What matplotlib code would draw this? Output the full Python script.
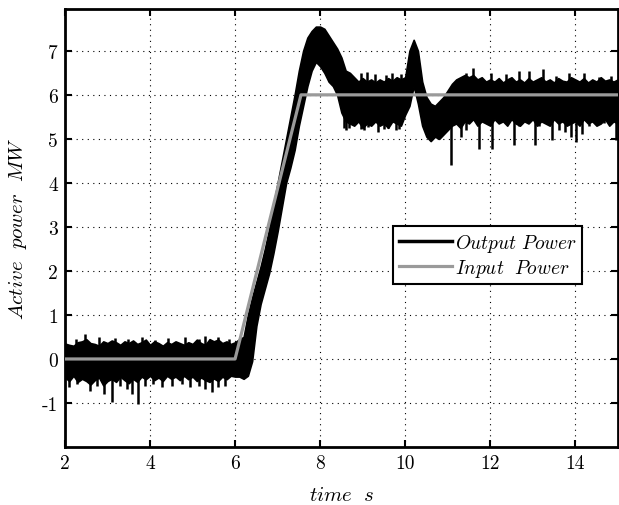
import numpy as np
import matplotlib
matplotlib.use("Agg")
import matplotlib.pyplot as plt

plt.rcParams['mathtext.fontset'] = 'cm'
plt.rcParams['font.family'] = ['cmr10', 'DejaVu Serif']
plt.rcParams['axes.formatter.use_mathtext'] = True

# ---------------- data ----------------
t_start, t_stop, t_step = 2.0, 15.0, 0.1

out_upper = [
    0.35, 0.32, 0.30, 0.38, 0.40, 0.45, 0.36, 0.34, 0.30, 0.40,   # 2.0-2.9
    0.36, 0.42, 0.38, 0.32, 0.40, 0.36, 0.42, 0.34, 0.38, 0.44,   # 3.0-3.9
    0.32, 0.40, 0.36, 0.30, 0.38, 0.34, 0.40, 0.36, 0.32, 0.38,   # 4.0-4.9
    0.34, 0.44, 0.36, 0.32, 0.45, 0.40, 0.44, 0.36, 0.40, 0.34,   # 5.0-5.9
    0.38, 0.45, 0.50, 1.00, 1.40, 1.75, 2.10, 2.50, 2.95, 3.50,   # 6.0-6.9
    4.00, 4.50, 5.00, 5.50, 6.00, 6.55, 7.00, 7.30, 7.45, 7.55,   # 7.0-7.9
    7.55, 7.50, 7.35, 7.20, 7.05, 6.85, 6.55, 6.50, 6.40, 6.30,   # 8.0-8.9
    6.38, 6.30, 6.35, 6.28, 6.35, 6.30, 6.38, 6.32, 6.40, 6.35,   # 9.0-9.9
    6.40, 7.00, 7.25, 7.00, 6.30, 5.95, 5.80, 5.75, 5.85, 5.95,   # 10.0-10.9
    6.10, 6.25, 6.35, 6.40, 6.45, 6.40, 6.45, 6.35, 6.40, 6.30,   # 11.0-11.9
    6.35, 6.30, 6.38, 6.28, 6.35, 6.40, 6.30, 6.35, 6.28, 6.38,   # 12.0-12.9
    6.30, 6.35, 6.40, 6.30, 6.35, 6.28, 6.38, 6.32, 6.30, 6.40,   # 13.0-13.9
    6.35, 6.30, 6.38, 6.28, 6.35, 6.30, 6.40, 6.32, 6.35, 6.30,   # 14.0-14.9
    6.35,                                                         # 15.0
]

out_lower = [
    -0.42, -0.50, -0.38, -0.52, -0.45, -0.50, -0.58, -0.48, -0.42, -0.60,   # 2.0-2.9
    -0.50, -0.45, -0.52, -0.40, -0.48, -0.55, -0.45, -0.52, -0.40, -0.46,   # 3.0-3.9
    -0.38, -0.48, -0.42, -0.50, -0.38, -0.45, -0.40, -0.48, -0.38, -0.46,   # 4.0-4.9
    -0.40, -0.50, -0.42, -0.48, -0.52, -0.44, -0.50, -0.40, -0.46, -0.38,   # 5.0-5.9
    -0.40, -0.40, -0.45, -0.38, -0.05, 0.75, 1.25, 1.60, 1.95, 2.40,        # 6.0-6.9
    2.90, 3.45, 4.00, 4.35, 4.75, 5.30, 5.75, 6.20, 6.55, 6.75,             # 7.0-7.9
    6.65, 6.50, 6.30, 6.20, 6.00, 5.60, 5.40, 5.35, 5.30, 5.40,             # 8.0-8.9
    5.25, 5.35, 5.30, 5.40, 5.30, 5.35, 5.25, 5.40, 5.35, 5.30,             # 9.0-9.9
    5.55, 5.75, 6.20, 5.80, 5.30, 5.05, 4.95, 5.05, 5.00, 5.10,             # 10.0-10.9
    5.20, 5.30, 5.35, 5.25, 5.40, 5.35, 5.45, 5.30, 5.40, 5.35,             # 11.0-11.9
    5.30, 5.45, 5.35, 5.40, 5.30, 5.45, 5.35, 5.30, 5.40, 5.35,             # 12.0-12.9
    5.45, 5.30, 5.40, 5.35, 5.30, 5.45, 5.35, 5.40, 5.30, 5.35,             # 13.0-13.9
    5.40, 5.30, 5.45, 5.35, 5.40, 5.30, 5.35, 5.45, 5.30, 5.40,             # 14.0-14.9
    5.35,                                                                   # 15.0
]

# sharp single-sample spikes of the output power
spike_down_t = [2.09, 2.28, 2.59, 2.75, 2.91, 3.10, 3.30, 3.46, 3.57, 3.71,
                3.89, 4.08, 4.28, 4.51, 4.75, 4.94, 5.14, 5.29, 5.45, 5.61,
                5.76,
                8.55, 8.61, 8.69, 8.96, 9.04, 9.12, 9.35, 9.51, 9.59, 9.79,
                9.86,
                11.08, 11.31, 11.43, 11.74, 12.04, 12.17, 12.55, 12.68, 12.88,
                13.06, 13.15, 13.45, 13.62, 13.77, 13.89, 14.01, 14.17, 14.32,
                14.48, 14.67, 14.95]
spike_down_v = [-0.64, -0.57, -0.72, -0.61, -0.80, -0.98, -0.61, -0.68, -0.80, -1.02,
                -0.61, -0.57, -0.64, -0.61, -0.57, -0.64, -0.61, -0.68, -0.74, -0.64,
                -0.61,
                5.25, 5.20, 5.25, 5.22, 5.20, 5.28, 5.15, 5.22, 5.25, 5.20,
                5.22,
                4.40, 5.05, 5.20, 4.77, 4.77, 5.42, 4.85, 5.30, 5.35,
                4.86, 5.30, 4.98, 5.20, 5.15, 5.05, 4.94, 5.10, 5.30,
                5.40, 5.35, 4.98]
spike_up_t = [2.25, 2.47, 2.79, 3.18, 3.49, 3.80, 4.11, 4.43, 4.82, 5.14,
              5.29, 5.61, 5.85,
              8.95, 9.10, 9.30, 9.55, 9.70, 9.90,
              11.43, 11.60, 12.02, 12.37, 12.68, 12.92, 13.23, 13.55, 13.86,
              14.21, 14.56, 14.83]
spike_up_v = [0.45, 0.57, 0.49, 0.47, 0.45, 0.49, 0.44, 0.47, 0.49, 0.45,
              0.53, 0.49, 0.45,
              6.50, 6.52, 6.47, 6.45, 6.50, 6.48,
              6.50, 6.60, 6.50, 6.47, 6.55, 6.55, 6.58, 6.43, 6.50,
              6.50, 6.40, 6.43]

in_t = [2.0, 6.0, 7.55, 15.0]
in_p = [0.0, 0.0, 6.0, 6.0]

x_ticks = [2, 4, 6, 8, 10, 12, 14]
x_ticklabels = ['2', '4', '6', '8', '10', '12', '14']
y_ticks = [-1, 0, 1, 2, 3, 4, 5, 6, 7]
y_ticklabels = ['-1', '0', '1', '2', '3', '4', '5', '6', '7']

# ---------------- drawing ----------------
t = np.round(np.arange(t_start, t_stop + t_step / 2, t_step), 2)
upper = np.array(out_upper)
lower = np.array(out_lower)

fig = plt.figure(figsize=(6.19, 5.06), dpi=100)
ax = fig.add_axes([0.105, 0.1146, 0.893, 0.8656])

ax.fill_between(t, lower, upper, color='black', lw=1.2, zorder=2)
ax.vlines(spike_down_t, spike_down_v, np.interp(spike_down_t, t, lower) + 0.1,
          color='black', lw=1.8, zorder=2)
ax.vlines(spike_up_t, np.interp(spike_up_t, t, upper) - 0.1, spike_up_v,
          color='black', lw=1.8, zorder=2)
ax.plot([], [], color='black', lw=2.5, label=r'$Output\ Power$')
ax.plot(in_t, in_p, color='#9a9a9a', lw=2.3, zorder=3, label=r'$Input\ \ Power$')

ax.set_xlim(2, 15)
ax.set_ylim(-2, 7.95)
ax.set_xticks(x_ticks)
ax.set_xticklabels(x_ticklabels)
ax.set_yticks(y_ticks)
ax.set_yticklabels(y_ticklabels)
ax.tick_params(direction='in', length=5, width=1.5, top=True, right=True,
               labelsize=14, pad=5)
for s in ax.spines.values():
    s.set_linewidth(2)
ax.grid(True, color='black', linestyle=(0, (1, 4)), lw=0.8)
ax.set_axisbelow(True)

ax.set_xlabel(r'$time\ \ s$', fontsize=15, labelpad=10)
ax.set_ylabel(r'$Active\ \ power\ \ MW$', fontsize=15, labelpad=9)

leg = ax.legend(loc='center', bbox_to_anchor=(0.765, 0.438), fontsize=14,
                frameon=True, fancybox=False, framealpha=1, edgecolor='black',
                handlelength=2.7, borderpad=0.3, labelspacing=0.15,
                handletextpad=0.15, borderaxespad=0)
leg.get_frame().set_linewidth(1.5)

fig.savefig('out.png', dpi=100)
